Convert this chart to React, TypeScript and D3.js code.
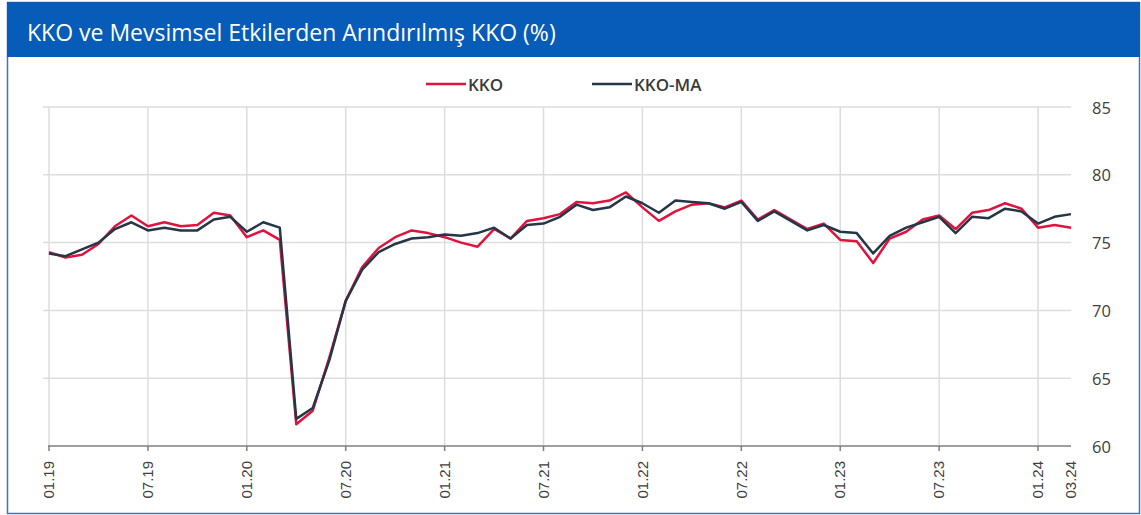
import { useEffect, useRef } from "react";
import * as d3 from "d3";

const WIDTH = 1141;
const HEIGHT = 515;

const TITLE = "KKO ve Mevsimsel Etkilerden Arındırılmış KKO (%)";

// Monthly, 01.19 .. 03.24
const KKO = [
  74.3, 73.9, 74.1, 74.9, 76.2, 77.0, 76.2, 76.5, 76.2, 76.3, 77.2, 77.0,
  75.4, 75.9, 75.2, 61.6, 62.6, 66.5, 70.7, 73.2, 74.6, 75.4, 75.9, 75.7,
  75.4, 75.0, 74.7, 76.0, 75.3, 76.6, 76.8, 77.1, 78.0, 77.9, 78.1, 78.7,
  77.6, 76.6, 77.3, 77.8, 77.9, 77.6, 78.1, 76.7, 77.4, 76.7, 76.0, 76.4,
  75.2, 75.1, 73.5, 75.3, 75.8, 76.7, 77.0, 76.0, 77.2, 77.4, 77.9, 77.5,
  76.1, 76.3, 76.1,
];

const KKO_MA = [
  74.2, 74.0, 74.5, 75.0, 76.0, 76.5, 75.9, 76.1, 75.9, 75.9, 76.7, 76.9,
  75.8, 76.5, 76.1, 62.0, 62.8, 66.3, 70.7, 73.0, 74.3, 74.9, 75.3, 75.4,
  75.6, 75.5, 75.7, 76.1, 75.3, 76.3, 76.4, 76.9, 77.8, 77.4, 77.6, 78.4,
  77.9, 77.2, 78.1, 78.0, 77.9, 77.5, 78.0, 76.6, 77.3, 76.6, 75.9, 76.3,
  75.8, 75.7, 74.2, 75.5, 76.1, 76.5, 76.9, 75.7, 76.9, 76.8, 77.5, 77.3,
  76.4, 76.9, 77.1,
];

const Y_TICKS = [60, 65, 70, 75, 80, 85];

// month index -> label, ticks every January / July plus the last month
const X_TICKS: [number, string][] = [
  [0, "01.19"], [6, "07.19"], [12, "01.20"], [18, "07.20"], [24, "01.21"],
  [30, "07.21"], [36, "01.22"], [42, "07.22"], [48, "01.23"], [54, "07.23"],
  [60, "01.24"], [62, "03.24"],
];

const RED = "#e0123e";
const DARK = "#253646";

export default function App() {
  const svgRef = useRef<SVGSVGElement>(null);

  useEffect(() => {
    const svg = d3.select(svgRef.current);
    svg.selectAll("*").remove();

    svg.append("rect").attr("width", WIDTH).attr("height", HEIGHT).attr("fill", "#ffffff");

    // frame + title bar
    svg.append("rect")
      .attr("x", 7.5).attr("y", 2.5)
      .attr("width", WIDTH - 9).attr("height", HEIGHT - 4)
      .attr("fill", "none").attr("stroke", "#3d74c8").attr("stroke-width", 1.5);

    svg.append("rect")
      .attr("x", 7).attr("y", 2)
      .attr("width", WIDTH - 8).attr("height", 55)
      .attr("fill", "#065cb8");

    svg.append("text")
      .attr("x", 27).attr("y", 41)
      .attr("font-family", "'Open Sans', sans-serif")
      .attr("font-size", "23px")
      .attr("fill", "#ffffff")
      .text(TITLE);

    const x = d3.scaleLinear().domain([0, KKO.length - 1]).range([49, 1071]);
    const y = d3.scaleLinear().domain([60, 85]).range([446, 107]);

    const g = svg.append("g");

    // horizontal grid
    Y_TICKS.filter((t) => t > 60).forEach((t) => {
      g.append("line")
        .attr("x1", x(0) - 6).attr("x2", x(KKO.length - 1))
        .attr("y1", y(t)).attr("y2", y(t))
        .attr("stroke", "#dddddd").attr("stroke-width", 1.5);
    });

    // vertical grid (Jan / Jul)
    X_TICKS.filter(([i]) => i % 6 === 0).forEach(([i]) => {
      g.append("line")
        .attr("x1", x(i)).attr("x2", x(i))
        .attr("y1", y(85)).attr("y2", y(60))
        .attr("stroke", "#dddddd").attr("stroke-width", 1.5);
    });

    // y labels on the right
    Y_TICKS.forEach((t) => {
      g.append("text")
        .attr("x", 1092).attr("y", y(t))
        .attr("dominant-baseline", "central")
        .attr("font-family", "'Open Sans', sans-serif")
        .attr("font-size", "16.5px")
        .attr("fill", "#404040")
        .text(t);
    });

    // x axis
    g.append("line")
      .attr("x1", x(0) - 1).attr("x2", x(KKO.length - 1))
      .attr("y1", y(60)).attr("y2", y(60))
      .attr("stroke", "#7f7f7f").attr("stroke-width", 1.5);

    X_TICKS.forEach(([i, label]) => {
      if (i % 6 === 0) {
        g.append("line")
          .attr("x1", x(i)).attr("x2", x(i))
          .attr("y1", y(60)).attr("y2", y(60) + 5)
          .attr("stroke", "#7f7f7f").attr("stroke-width", 1.5);
      }
      g.append("text")
        .attr("transform", `translate(${x(i)},461) rotate(-90)`)
        .attr("text-anchor", "end")
        .attr("dy", "0.35em")
        .attr("font-family", "'Liberation Sans', Arial, sans-serif")
        .attr("font-size", "15px")
        .attr("fill", "#404040")
        .text(label);
    });

    // series
    const line = d3.line<number>()
      .x((_, i) => x(i))
      .y((d) => y(d));

    g.append("path")
      .datum(KKO)
      .attr("d", line)
      .attr("fill", "none")
      .attr("stroke", RED)
      .attr("stroke-width", 2.5)
      .attr("stroke-linejoin", "round");

    g.append("path")
      .datum(KKO_MA)
      .attr("d", line)
      .attr("fill", "none")
      .attr("stroke", DARK)
      .attr("stroke-width", 2.5)
      .attr("stroke-linejoin", "round");

    // legend
    const legend = [
      { name: "KKO", color: RED, x0: 426 },
      { name: "KKO-MA", color: DARK, x0: 592 },
    ];
    legend.forEach((l) => {
      svg.append("line")
        .attr("x1", l.x0).attr("x2", l.x0 + 40)
        .attr("y1", 84).attr("y2", 84)
        .attr("stroke", l.color).attr("stroke-width", 2.5);
      svg.append("text")
        .attr("x", l.x0 + 42).attr("y", 84)
        .attr("dominant-baseline", "central")
        .attr("font-family", "'Open Sans', sans-serif")
        .attr("font-size", "17px")
        .attr("font-weight", 600)
        .attr("fill", "#3a3a3a")
        .text(l.name);
    });
  }, []);

  return (
    <svg
      ref={svgRef}
      width={WIDTH}
      height={HEIGHT}
      style={{ position: "absolute", left: 0, top: 0, display: "block" }}
    />
  );
}
